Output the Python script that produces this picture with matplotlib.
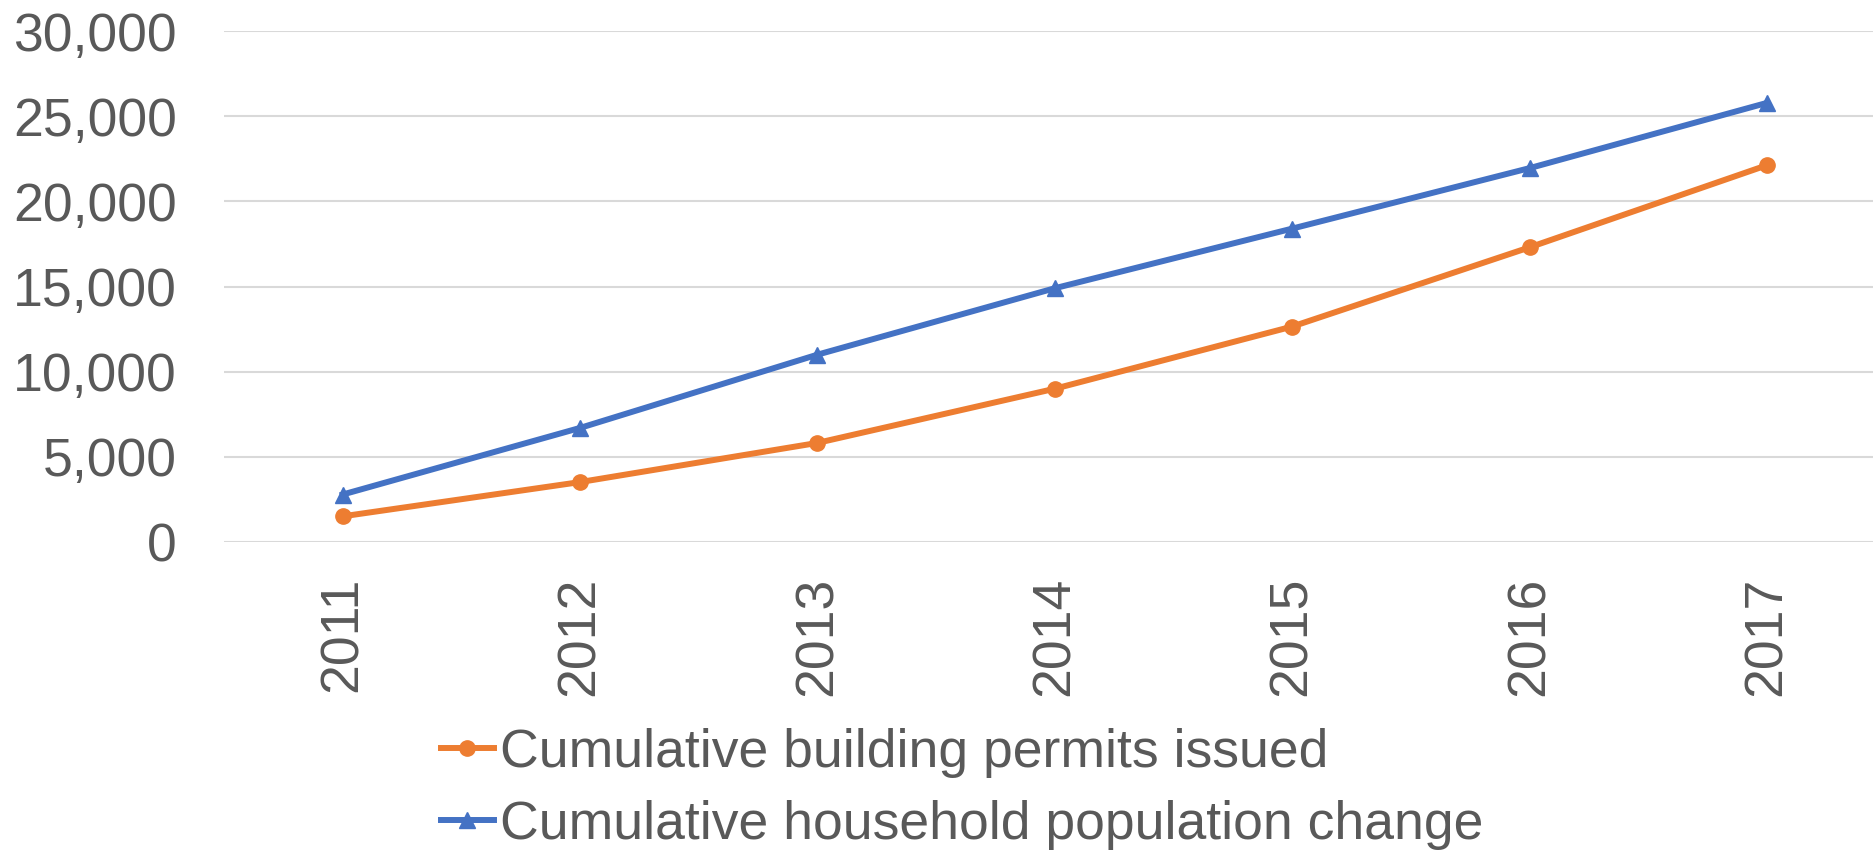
import matplotlib
matplotlib.use("Agg")
import matplotlib.pyplot as plt

years = ["2011", "2012", "2013", "2014", "2015", "2016", "2017"]
permits = [1510, 3520, 5820, 9000, 12650, 17300, 22120]
households = [2790, 6700, 11000, 14900, 18400, 21950, 25780]

yticks = [0, 5000, 10000, 15000, 20000, 25000, 30000]
ytick_labels = ["0", "5,000", "10,000", "15,000", "20,000", "25,000", "30,000"]

text_color = "#595959"
plt.rcParams["font.family"] = ["Liberation Sans", "DejaVu Sans"]

fig = plt.figure(figsize=(18.73, 8.52), dpi=100)
ax = fig.add_axes([0.1196, 0.3638, 0.8804, 0.5998])

x = range(len(years))
ax.plot(x, permits, color="#ED7D31", lw=4.3, marker="o", markersize=11,
        label="Cumulative building permits issued", zorder=3)
ax.plot(x, households, color="#4472C4", lw=4.3, marker="^", markersize=12,
        label="Cumulative household population change", zorder=3)

ax.set_xlim(-0.5, 6.447)
ax.set_ylim(0, 30000)
ax.set_yticks(yticks)
ax.set_yticklabels(ytick_labels)
ax.set_xticks(list(x))
ax.set_xticklabels(years, rotation=90)

ax.grid(axis="y", color="#D9D9D9", lw=1.5)
ax.set_axisbelow(True)
for s in ax.spines.values():
    s.set_visible(False)
ax.tick_params(axis="both", length=0, labelsize=38.5, colors=text_color)
ax.tick_params(axis="y", pad=34)
ax.tick_params(axis="x", pad=25)

fig.legend(loc="center", bbox_to_anchor=(0.5135, 0.074), frameon=False,
           fontsize=38.5, labelcolor=text_color, handlelength=1.0,
           handletextpad=0.1, labelspacing=0.42, numpoints=1, borderpad=0)

fig.savefig("out.png", dpi=100)
